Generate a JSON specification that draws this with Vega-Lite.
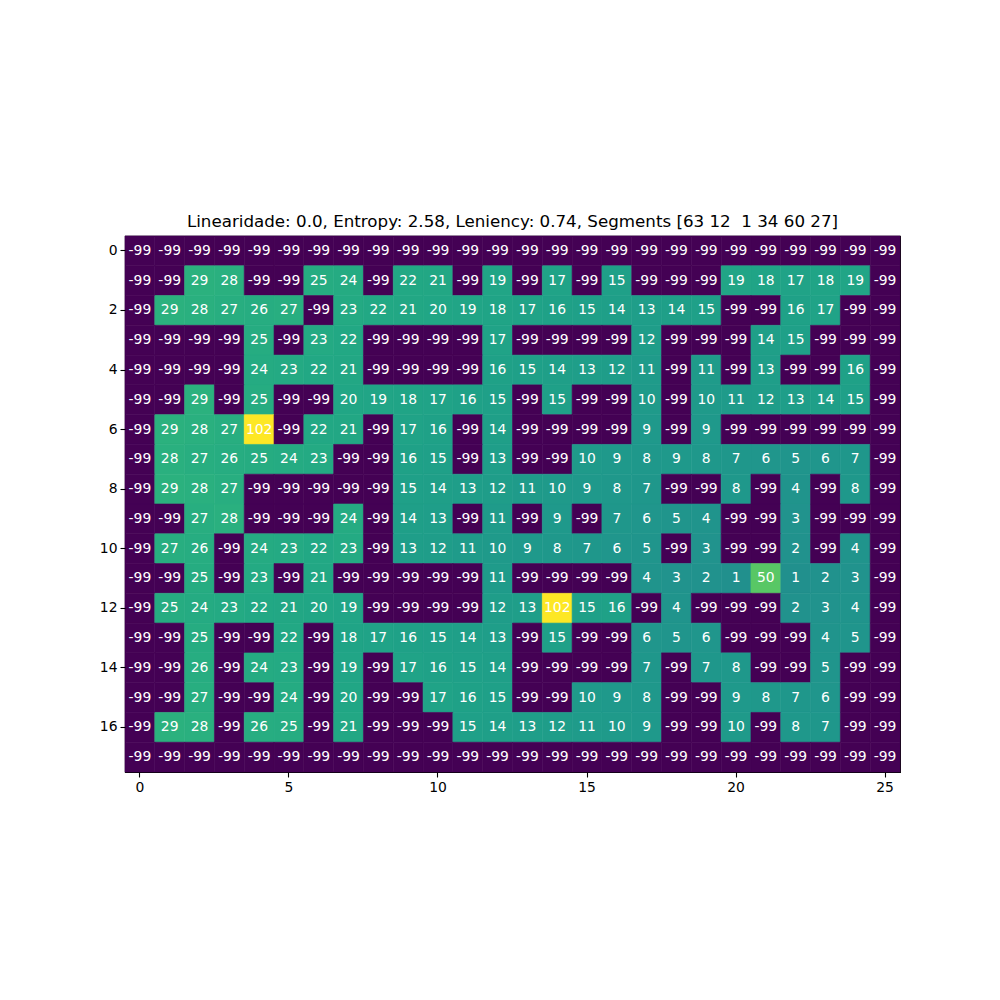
{
"$schema": "https://vega.github.io/schema/vega-lite/v6.json",
"width": 775, "height": 536,
"padding": {"left": 99, "top": 214, "right": 0, "bottom": 0},
"background": "white",
"title": {"text": "Linearidade: 0.0, Entropy: 2.58, Leniency: 0.74, Segments [63 12\u00a0 1 34 60 27]", "font": "DejaVu Sans", "fontSize": 16.7, "fontWeight": "normal", "color": "black", "offset": 5},
"config": {
 "view": {"stroke": "black", "strokeWidth": 1.1},
 "axis": {"domain": false, "grid": false, "ticks": true, "tickColor": "black", "tickSize": 5, "tickWidth": 1.1, "labelFont": "DejaVu Sans", "labelFontSize": 13.9, "labelColor": "black", "labelPadding": 3, "title": null}
},
"datasets": {"grid": [
{"row":0,"col":0,"value":-99},{"row":0,"col":1,"value":-99},{"row":0,"col":2,"value":-99},{"row":0,"col":3,"value":-99},{"row":0,"col":4,"value":-99},{"row":0,"col":5,"value":-99},{"row":0,"col":6,"value":-99},{"row":0,"col":7,"value":-99},{"row":0,"col":8,"value":-99},{"row":0,"col":9,"value":-99},{"row":0,"col":10,"value":-99},{"row":0,"col":11,"value":-99},{"row":0,"col":12,"value":-99},{"row":0,"col":13,"value":-99},{"row":0,"col":14,"value":-99},{"row":0,"col":15,"value":-99},{"row":0,"col":16,"value":-99},{"row":0,"col":17,"value":-99},{"row":0,"col":18,"value":-99},{"row":0,"col":19,"value":-99},{"row":0,"col":20,"value":-99},{"row":0,"col":21,"value":-99},{"row":0,"col":22,"value":-99},{"row":0,"col":23,"value":-99},{"row":0,"col":24,"value":-99},{"row":0,"col":25,"value":-99},
{"row":1,"col":0,"value":-99},{"row":1,"col":1,"value":-99},{"row":1,"col":2,"value":29},{"row":1,"col":3,"value":28},{"row":1,"col":4,"value":-99},{"row":1,"col":5,"value":-99},{"row":1,"col":6,"value":25},{"row":1,"col":7,"value":24},{"row":1,"col":8,"value":-99},{"row":1,"col":9,"value":22},{"row":1,"col":10,"value":21},{"row":1,"col":11,"value":-99},{"row":1,"col":12,"value":19},{"row":1,"col":13,"value":-99},{"row":1,"col":14,"value":17},{"row":1,"col":15,"value":-99},{"row":1,"col":16,"value":15},{"row":1,"col":17,"value":-99},{"row":1,"col":18,"value":-99},{"row":1,"col":19,"value":-99},{"row":1,"col":20,"value":19},{"row":1,"col":21,"value":18},{"row":1,"col":22,"value":17},{"row":1,"col":23,"value":18},{"row":1,"col":24,"value":19},{"row":1,"col":25,"value":-99},
{"row":2,"col":0,"value":-99},{"row":2,"col":1,"value":29},{"row":2,"col":2,"value":28},{"row":2,"col":3,"value":27},{"row":2,"col":4,"value":26},{"row":2,"col":5,"value":27},{"row":2,"col":6,"value":-99},{"row":2,"col":7,"value":23},{"row":2,"col":8,"value":22},{"row":2,"col":9,"value":21},{"row":2,"col":10,"value":20},{"row":2,"col":11,"value":19},{"row":2,"col":12,"value":18},{"row":2,"col":13,"value":17},{"row":2,"col":14,"value":16},{"row":2,"col":15,"value":15},{"row":2,"col":16,"value":14},{"row":2,"col":17,"value":13},{"row":2,"col":18,"value":14},{"row":2,"col":19,"value":15},{"row":2,"col":20,"value":-99},{"row":2,"col":21,"value":-99},{"row":2,"col":22,"value":16},{"row":2,"col":23,"value":17},{"row":2,"col":24,"value":-99},{"row":2,"col":25,"value":-99},
{"row":3,"col":0,"value":-99},{"row":3,"col":1,"value":-99},{"row":3,"col":2,"value":-99},{"row":3,"col":3,"value":-99},{"row":3,"col":4,"value":25},{"row":3,"col":5,"value":-99},{"row":3,"col":6,"value":23},{"row":3,"col":7,"value":22},{"row":3,"col":8,"value":-99},{"row":3,"col":9,"value":-99},{"row":3,"col":10,"value":-99},{"row":3,"col":11,"value":-99},{"row":3,"col":12,"value":17},{"row":3,"col":13,"value":-99},{"row":3,"col":14,"value":-99},{"row":3,"col":15,"value":-99},{"row":3,"col":16,"value":-99},{"row":3,"col":17,"value":12},{"row":3,"col":18,"value":-99},{"row":3,"col":19,"value":-99},{"row":3,"col":20,"value":-99},{"row":3,"col":21,"value":14},{"row":3,"col":22,"value":15},{"row":3,"col":23,"value":-99},{"row":3,"col":24,"value":-99},{"row":3,"col":25,"value":-99},
{"row":4,"col":0,"value":-99},{"row":4,"col":1,"value":-99},{"row":4,"col":2,"value":-99},{"row":4,"col":3,"value":-99},{"row":4,"col":4,"value":24},{"row":4,"col":5,"value":23},{"row":4,"col":6,"value":22},{"row":4,"col":7,"value":21},{"row":4,"col":8,"value":-99},{"row":4,"col":9,"value":-99},{"row":4,"col":10,"value":-99},{"row":4,"col":11,"value":-99},{"row":4,"col":12,"value":16},{"row":4,"col":13,"value":15},{"row":4,"col":14,"value":14},{"row":4,"col":15,"value":13},{"row":4,"col":16,"value":12},{"row":4,"col":17,"value":11},{"row":4,"col":18,"value":-99},{"row":4,"col":19,"value":11},{"row":4,"col":20,"value":-99},{"row":4,"col":21,"value":13},{"row":4,"col":22,"value":-99},{"row":4,"col":23,"value":-99},{"row":4,"col":24,"value":16},{"row":4,"col":25,"value":-99},
{"row":5,"col":0,"value":-99},{"row":5,"col":1,"value":-99},{"row":5,"col":2,"value":29},{"row":5,"col":3,"value":-99},{"row":5,"col":4,"value":25},{"row":5,"col":5,"value":-99},{"row":5,"col":6,"value":-99},{"row":5,"col":7,"value":20},{"row":5,"col":8,"value":19},{"row":5,"col":9,"value":18},{"row":5,"col":10,"value":17},{"row":5,"col":11,"value":16},{"row":5,"col":12,"value":15},{"row":5,"col":13,"value":-99},{"row":5,"col":14,"value":15},{"row":5,"col":15,"value":-99},{"row":5,"col":16,"value":-99},{"row":5,"col":17,"value":10},{"row":5,"col":18,"value":-99},{"row":5,"col":19,"value":10},{"row":5,"col":20,"value":11},{"row":5,"col":21,"value":12},{"row":5,"col":22,"value":13},{"row":5,"col":23,"value":14},{"row":5,"col":24,"value":15},{"row":5,"col":25,"value":-99},
{"row":6,"col":0,"value":-99},{"row":6,"col":1,"value":29},{"row":6,"col":2,"value":28},{"row":6,"col":3,"value":27},{"row":6,"col":4,"value":102},{"row":6,"col":5,"value":-99},{"row":6,"col":6,"value":22},{"row":6,"col":7,"value":21},{"row":6,"col":8,"value":-99},{"row":6,"col":9,"value":17},{"row":6,"col":10,"value":16},{"row":6,"col":11,"value":-99},{"row":6,"col":12,"value":14},{"row":6,"col":13,"value":-99},{"row":6,"col":14,"value":-99},{"row":6,"col":15,"value":-99},{"row":6,"col":16,"value":-99},{"row":6,"col":17,"value":9},{"row":6,"col":18,"value":-99},{"row":6,"col":19,"value":9},{"row":6,"col":20,"value":-99},{"row":6,"col":21,"value":-99},{"row":6,"col":22,"value":-99},{"row":6,"col":23,"value":-99},{"row":6,"col":24,"value":-99},{"row":6,"col":25,"value":-99},
{"row":7,"col":0,"value":-99},{"row":7,"col":1,"value":28},{"row":7,"col":2,"value":27},{"row":7,"col":3,"value":26},{"row":7,"col":4,"value":25},{"row":7,"col":5,"value":24},{"row":7,"col":6,"value":23},{"row":7,"col":7,"value":-99},{"row":7,"col":8,"value":-99},{"row":7,"col":9,"value":16},{"row":7,"col":10,"value":15},{"row":7,"col":11,"value":-99},{"row":7,"col":12,"value":13},{"row":7,"col":13,"value":-99},{"row":7,"col":14,"value":-99},{"row":7,"col":15,"value":10},{"row":7,"col":16,"value":9},{"row":7,"col":17,"value":8},{"row":7,"col":18,"value":9},{"row":7,"col":19,"value":8},{"row":7,"col":20,"value":7},{"row":7,"col":21,"value":6},{"row":7,"col":22,"value":5},{"row":7,"col":23,"value":6},{"row":7,"col":24,"value":7},{"row":7,"col":25,"value":-99},
{"row":8,"col":0,"value":-99},{"row":8,"col":1,"value":29},{"row":8,"col":2,"value":28},{"row":8,"col":3,"value":27},{"row":8,"col":4,"value":-99},{"row":8,"col":5,"value":-99},{"row":8,"col":6,"value":-99},{"row":8,"col":7,"value":-99},{"row":8,"col":8,"value":-99},{"row":8,"col":9,"value":15},{"row":8,"col":10,"value":14},{"row":8,"col":11,"value":13},{"row":8,"col":12,"value":12},{"row":8,"col":13,"value":11},{"row":8,"col":14,"value":10},{"row":8,"col":15,"value":9},{"row":8,"col":16,"value":8},{"row":8,"col":17,"value":7},{"row":8,"col":18,"value":-99},{"row":8,"col":19,"value":-99},{"row":8,"col":20,"value":8},{"row":8,"col":21,"value":-99},{"row":8,"col":22,"value":4},{"row":8,"col":23,"value":-99},{"row":8,"col":24,"value":8},{"row":8,"col":25,"value":-99},
{"row":9,"col":0,"value":-99},{"row":9,"col":1,"value":-99},{"row":9,"col":2,"value":27},{"row":9,"col":3,"value":28},{"row":9,"col":4,"value":-99},{"row":9,"col":5,"value":-99},{"row":9,"col":6,"value":-99},{"row":9,"col":7,"value":24},{"row":9,"col":8,"value":-99},{"row":9,"col":9,"value":14},{"row":9,"col":10,"value":13},{"row":9,"col":11,"value":-99},{"row":9,"col":12,"value":11},{"row":9,"col":13,"value":-99},{"row":9,"col":14,"value":9},{"row":9,"col":15,"value":-99},{"row":9,"col":16,"value":7},{"row":9,"col":17,"value":6},{"row":9,"col":18,"value":5},{"row":9,"col":19,"value":4},{"row":9,"col":20,"value":-99},{"row":9,"col":21,"value":-99},{"row":9,"col":22,"value":3},{"row":9,"col":23,"value":-99},{"row":9,"col":24,"value":-99},{"row":9,"col":25,"value":-99},
{"row":10,"col":0,"value":-99},{"row":10,"col":1,"value":27},{"row":10,"col":2,"value":26},{"row":10,"col":3,"value":-99},{"row":10,"col":4,"value":24},{"row":10,"col":5,"value":23},{"row":10,"col":6,"value":22},{"row":10,"col":7,"value":23},{"row":10,"col":8,"value":-99},{"row":10,"col":9,"value":13},{"row":10,"col":10,"value":12},{"row":10,"col":11,"value":11},{"row":10,"col":12,"value":10},{"row":10,"col":13,"value":9},{"row":10,"col":14,"value":8},{"row":10,"col":15,"value":7},{"row":10,"col":16,"value":6},{"row":10,"col":17,"value":5},{"row":10,"col":18,"value":-99},{"row":10,"col":19,"value":3},{"row":10,"col":20,"value":-99},{"row":10,"col":21,"value":-99},{"row":10,"col":22,"value":2},{"row":10,"col":23,"value":-99},{"row":10,"col":24,"value":4},{"row":10,"col":25,"value":-99},
{"row":11,"col":0,"value":-99},{"row":11,"col":1,"value":-99},{"row":11,"col":2,"value":25},{"row":11,"col":3,"value":-99},{"row":11,"col":4,"value":23},{"row":11,"col":5,"value":-99},{"row":11,"col":6,"value":21},{"row":11,"col":7,"value":-99},{"row":11,"col":8,"value":-99},{"row":11,"col":9,"value":-99},{"row":11,"col":10,"value":-99},{"row":11,"col":11,"value":-99},{"row":11,"col":12,"value":11},{"row":11,"col":13,"value":-99},{"row":11,"col":14,"value":-99},{"row":11,"col":15,"value":-99},{"row":11,"col":16,"value":-99},{"row":11,"col":17,"value":4},{"row":11,"col":18,"value":3},{"row":11,"col":19,"value":2},{"row":11,"col":20,"value":1},{"row":11,"col":21,"value":50},{"row":11,"col":22,"value":1},{"row":11,"col":23,"value":2},{"row":11,"col":24,"value":3},{"row":11,"col":25,"value":-99},
{"row":12,"col":0,"value":-99},{"row":12,"col":1,"value":25},{"row":12,"col":2,"value":24},{"row":12,"col":3,"value":23},{"row":12,"col":4,"value":22},{"row":12,"col":5,"value":21},{"row":12,"col":6,"value":20},{"row":12,"col":7,"value":19},{"row":12,"col":8,"value":-99},{"row":12,"col":9,"value":-99},{"row":12,"col":10,"value":-99},{"row":12,"col":11,"value":-99},{"row":12,"col":12,"value":12},{"row":12,"col":13,"value":13},{"row":12,"col":14,"value":102},{"row":12,"col":15,"value":15},{"row":12,"col":16,"value":16},{"row":12,"col":17,"value":-99},{"row":12,"col":18,"value":4},{"row":12,"col":19,"value":-99},{"row":12,"col":20,"value":-99},{"row":12,"col":21,"value":-99},{"row":12,"col":22,"value":2},{"row":12,"col":23,"value":3},{"row":12,"col":24,"value":4},{"row":12,"col":25,"value":-99},
{"row":13,"col":0,"value":-99},{"row":13,"col":1,"value":-99},{"row":13,"col":2,"value":25},{"row":13,"col":3,"value":-99},{"row":13,"col":4,"value":-99},{"row":13,"col":5,"value":22},{"row":13,"col":6,"value":-99},{"row":13,"col":7,"value":18},{"row":13,"col":8,"value":17},{"row":13,"col":9,"value":16},{"row":13,"col":10,"value":15},{"row":13,"col":11,"value":14},{"row":13,"col":12,"value":13},{"row":13,"col":13,"value":-99},{"row":13,"col":14,"value":15},{"row":13,"col":15,"value":-99},{"row":13,"col":16,"value":-99},{"row":13,"col":17,"value":6},{"row":13,"col":18,"value":5},{"row":13,"col":19,"value":6},{"row":13,"col":20,"value":-99},{"row":13,"col":21,"value":-99},{"row":13,"col":22,"value":-99},{"row":13,"col":23,"value":4},{"row":13,"col":24,"value":5},{"row":13,"col":25,"value":-99},
{"row":14,"col":0,"value":-99},{"row":14,"col":1,"value":-99},{"row":14,"col":2,"value":26},{"row":14,"col":3,"value":-99},{"row":14,"col":4,"value":24},{"row":14,"col":5,"value":23},{"row":14,"col":6,"value":-99},{"row":14,"col":7,"value":19},{"row":14,"col":8,"value":-99},{"row":14,"col":9,"value":17},{"row":14,"col":10,"value":16},{"row":14,"col":11,"value":15},{"row":14,"col":12,"value":14},{"row":14,"col":13,"value":-99},{"row":14,"col":14,"value":-99},{"row":14,"col":15,"value":-99},{"row":14,"col":16,"value":-99},{"row":14,"col":17,"value":7},{"row":14,"col":18,"value":-99},{"row":14,"col":19,"value":7},{"row":14,"col":20,"value":8},{"row":14,"col":21,"value":-99},{"row":14,"col":22,"value":-99},{"row":14,"col":23,"value":5},{"row":14,"col":24,"value":-99},{"row":14,"col":25,"value":-99},
{"row":15,"col":0,"value":-99},{"row":15,"col":1,"value":-99},{"row":15,"col":2,"value":27},{"row":15,"col":3,"value":-99},{"row":15,"col":4,"value":-99},{"row":15,"col":5,"value":24},{"row":15,"col":6,"value":-99},{"row":15,"col":7,"value":20},{"row":15,"col":8,"value":-99},{"row":15,"col":9,"value":-99},{"row":15,"col":10,"value":17},{"row":15,"col":11,"value":16},{"row":15,"col":12,"value":15},{"row":15,"col":13,"value":-99},{"row":15,"col":14,"value":-99},{"row":15,"col":15,"value":10},{"row":15,"col":16,"value":9},{"row":15,"col":17,"value":8},{"row":15,"col":18,"value":-99},{"row":15,"col":19,"value":-99},{"row":15,"col":20,"value":9},{"row":15,"col":21,"value":8},{"row":15,"col":22,"value":7},{"row":15,"col":23,"value":6},{"row":15,"col":24,"value":-99},{"row":15,"col":25,"value":-99},
{"row":16,"col":0,"value":-99},{"row":16,"col":1,"value":29},{"row":16,"col":2,"value":28},{"row":16,"col":3,"value":-99},{"row":16,"col":4,"value":26},{"row":16,"col":5,"value":25},{"row":16,"col":6,"value":-99},{"row":16,"col":7,"value":21},{"row":16,"col":8,"value":-99},{"row":16,"col":9,"value":-99},{"row":16,"col":10,"value":-99},{"row":16,"col":11,"value":15},{"row":16,"col":12,"value":14},{"row":16,"col":13,"value":13},{"row":16,"col":14,"value":12},{"row":16,"col":15,"value":11},{"row":16,"col":16,"value":10},{"row":16,"col":17,"value":9},{"row":16,"col":18,"value":-99},{"row":16,"col":19,"value":-99},{"row":16,"col":20,"value":10},{"row":16,"col":21,"value":-99},{"row":16,"col":22,"value":8},{"row":16,"col":23,"value":7},{"row":16,"col":24,"value":-99},{"row":16,"col":25,"value":-99},
{"row":17,"col":0,"value":-99},{"row":17,"col":1,"value":-99},{"row":17,"col":2,"value":-99},{"row":17,"col":3,"value":-99},{"row":17,"col":4,"value":-99},{"row":17,"col":5,"value":-99},{"row":17,"col":6,"value":-99},{"row":17,"col":7,"value":-99},{"row":17,"col":8,"value":-99},{"row":17,"col":9,"value":-99},{"row":17,"col":10,"value":-99},{"row":17,"col":11,"value":-99},{"row":17,"col":12,"value":-99},{"row":17,"col":13,"value":-99},{"row":17,"col":14,"value":-99},{"row":17,"col":15,"value":-99},{"row":17,"col":16,"value":-99},{"row":17,"col":17,"value":-99},{"row":17,"col":18,"value":-99},{"row":17,"col":19,"value":-99},{"row":17,"col":20,"value":-99},{"row":17,"col":21,"value":-99},{"row":17,"col":22,"value":-99},{"row":17,"col":23,"value":-99},{"row":17,"col":24,"value":-99},{"row":17,"col":25,"value":-99}
]},
"data": {"name": "grid"},
"encoding": {
 "x": {"field": "col", "type": "ordinal", "scale": {"paddingInner": 0, "paddingOuter": 0}, "axis": {"values": [0,5,10,15,20,25], "labelAngle": 0, "orient": "bottom"}},
 "y": {"field": "row", "type": "ordinal", "scale": {"paddingInner": 0, "paddingOuter": 0}, "axis": {"values": [0,2,4,6,8,10,12,14,16], "orient": "left"}}
},
"layer": [
 {"mark": {"type": "rect", "strokeWidth": 0.6},
  "encoding": {
   "color": {"field": "value", "type": "quantitative", "scale": {"scheme": "viridis", "domain": [-99, 102]}, "legend": null},
   "stroke": {"field": "value", "type": "quantitative", "scale": {"scheme": "viridis", "domain": [-99, 102]}, "legend": null}
  }},
 {"mark": {"type": "text", "color": "white", "font": "DejaVu Sans", "fontSize": 13.9, "baseline": "middle", "align": "center"},
  "encoding": {"text": {"field": "value", "type": "nominal"}}}
]
}
